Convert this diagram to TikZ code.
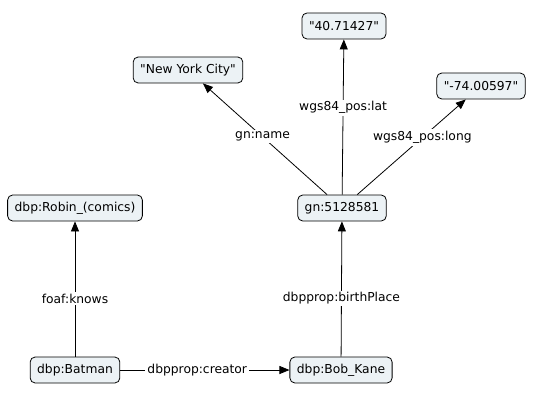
\documentclass[tikz,border=0pt]{standalone}
\usepackage{fontspec}
\setmainfont{DejaVu Sans}
\usetikzlibrary{arrows.meta}

\definecolor{conceptfill}{RGB}{236,242,245}

\begin{document}
\begin{tikzpicture}
                [x=1pt, y=-1pt, >={Triangle[length=10pt,width=8pt]},
                font=\fontsize{12.3}{14}\selectfont,
                concept/.style={draw, fill=conceptfill, rounded corners=5pt,
                    line width=0.8pt, minimum height=26pt, inner xsep=7pt},
                link/.style={->, line width=0.8pt},
                link label/.style={fill=white, inner sep=2pt},
                ]
                \useasboundingbox (0,0) rectangle (538,401);

                \node[concept] (lat)    at (344,26)  {\textquotedbl 40.71427\textquotedbl};
                \node[concept] (nyc)    at (188,70)  {\textquotedbl New York City\textquotedbl};
                \node[concept] (long)   at (481,86)  {\textquotedbl -74.00597\textquotedbl};
                \node[concept] (gn)     at (342,208) {gn:5128581};
                \node[concept] (robin)  at (75,208)  {dbp:Robin\_(comics)};
                \node[concept] (batman) at (75,370)  {dbp:Batman};
                \node[concept] (kane)   at (341,370) {dbp:Bob\_Kane};

                \draw[link] (gn) -- (nyc)
                    node[link label, pos=0.52] {gn:name};
                \draw[link] (gn) -- (lat)
                    node[link label, pos=0.56] {wgs84\_pos:lat};
                \draw[link] (gn) -- (long)
                    node[link label, pos=0.6] {wgs84\_pos:long};

                \draw[link] (batman) -- (robin)
                    node[link label, pos=0.43] {foaf:knows};
                \draw[link] (kane) -- (gn)
                    node[link label, pos=0.43] {dbpprop:birthPlace};
                \draw[link] (batman) -- (kane)
                    node[link label, pos=0.455] {dbpprop:creator};
            \end{tikzpicture}
\end{document}
